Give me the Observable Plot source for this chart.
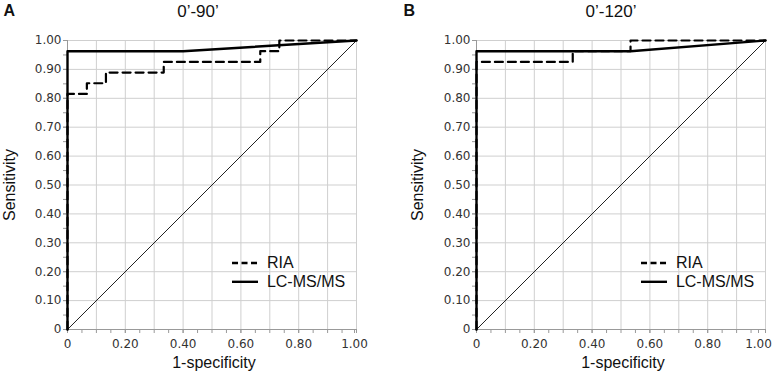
<!DOCTYPE html>
<html>
<head>
<meta charset="utf-8">
<script src="https://cdn.jsdelivr.net/npm/d3@7"></script>
<script src="https://cdn.jsdelivr.net/npm/@observablehq/plot@0.6"></script>
<style>
  html, body { margin: 0; padding: 0; background: #fff; }
  #wrap { display: flex; width: 777px; height: 380px; }
</style>
</head>
<body>
<div id="wrap"></div>
<script>
// ---- Data ----
const panelLetters = ["A", "B"];
const panelTitles = ["0\u2019-90\u2019", "0\u2019-120\u2019"];
const seriesNames = ["RIA", "LC-MS/MS"];

// Panel A (0'-90')
const riaA_fpr = [0, 0, 0.067, 0.067, 0.133, 0.133, 0.333, 0.333, 0.667, 0.667, 0.733, 0.733, 1];
const riaA_tpr = [0, 0.815, 0.815, 0.852, 0.852, 0.889, 0.889, 0.926, 0.926, 0.963, 0.963, 1, 1];
const lcA_fpr = [0, 0, 0.4, 1];
const lcA_tpr = [0, 0.963, 0.963, 1];

// Panel B (0'-120')
const riaB_fpr = [0, 0, 0.333, 0.333, 0.533, 0.533, 1];
const riaB_tpr = [0, 0.926, 0.926, 0.963, 0.963, 1, 1];
const lcB_fpr = [0, 0, 0.533, 1];
const lcB_tpr = [0, 0.963, 0.963, 1];

// Reference diagonal
const diag = [0, 1];

// Tick labels
const xTickValues = [0, 0.2, 0.4, 0.6, 0.8, 1];
const xTickLabels = ["0", "0.20", "0.40", "0.60", "0.80", "1.00"];
const yTickValues = [0, 0.1, 0.2, 0.3, 0.4, 0.5, 0.6, 0.7, 0.8, 0.9, 1];
const yTickLabels = ["0", "0.10", "0.20", "0.30", "0.40", "0.50", "0.60", "0.70", "0.80", "0.90", "1.00"];
const minorTicks = d3.range(0, 21).map(i => i / 20);
const gridTicks = d3.range(0, 11).map(i => i / 10);

const xLabel = "1-specificity";
const yLabel = "Sensitivity";

// ---- Layout ----
const sans = "Liberation Sans, Arial, sans-serif";
const tickFont = "DejaVu Sans, Verdana, sans-serif";
const legendPos = { x1: 0.571, x2: 0.661, xt: 0.69, y: [0.23, 0.165] };

function pts(xs, ys) { return xs.map((x, i) => ({ x, y: ys[i] })); }
function lookup(vals, labels) {
  return d => { const i = vals.findIndex(v => Math.abs(v - d) < 1e-9); return i < 0 ? "" : labels[i]; };
}

function panel(cfg) {
  const ria = pts(cfg.riaX, cfg.riaY);
  const lc = pts(cfg.lcX, cfg.lcY);
  const dg = pts(diag, diag);
  const legend = seriesNames.map((name, i) => ({ name, y: legendPos.y[i] }));
  const lastX = xTickValues[xTickValues.length - 1];
  const axisOpts = { tickSize: 4, stroke: "#999", fill: "#333", label: null, fontSize: 12, fontFamily: tickFont };
  return Plot.plot({
    width: cfg.width,
    height: 380,
    marginLeft: cfg.ml,
    marginRight: cfg.mr,
    marginTop: 40,
    marginBottom: 51,
    x: { domain: [0, 1], axis: null },
    y: { domain: [0, 1], axis: null },
    style: { fontFamily: tickFont, fontSize: "12px", color: "#333", background: "#fff", overflow: "visible" },
    marks: [
      Plot.gridX(gridTicks, { stroke: "#cfcfcf", strokeOpacity: 1 }),
      Plot.gridY(gridTicks, { stroke: "#cfcfcf", strokeOpacity: 1 }),
      Plot.axisX(minorTicks, { ...axisOpts, tickFormat: () => "" }),
      Plot.axisX(xTickValues.filter(v => v !== lastX), { ...axisOpts, tickPadding: 6, tickFormat: lookup(xTickValues, xTickLabels) }),
      Plot.axisX([lastX], { ...axisOpts, tickPadding: 6, dx: cfg.lastDx, tickFormat: lookup(xTickValues, xTickLabels) }),
      Plot.axisY(minorTicks, { ...axisOpts, tickFormat: () => "" }),
      Plot.axisY(yTickValues, { ...axisOpts, tickPadding: 2, tickFormat: lookup(yTickValues, yTickLabels) }),
      Plot.ruleY([0], { stroke: "#999" }),
      Plot.ruleX([0], { stroke: "#999" }),
      Plot.line(dg, { x: "x", y: "y", stroke: "#222", strokeWidth: 1 }),
      Plot.line(lc, { x: "x", y: "y", stroke: "#000", strokeWidth: 2.4 }),
      Plot.line(ria, { x: "x", y: "y", stroke: "#000", strokeWidth: 2.2, strokeDasharray: "8,5" }),
      // legend
      Plot.ruleY([legend[0]], { y: "y", x1: legendPos.x1, x2: legendPos.x2, stroke: "#000", strokeWidth: 2.4, strokeDasharray: "6,3.5" }),
      Plot.ruleY([legend[1]], { y: "y", x1: legendPos.x1, x2: legendPos.x2, stroke: "#000", strokeWidth: 2.4 }),
      Plot.text(legend, { x: legendPos.xt, y: "y", text: "name", textAnchor: "start", lineAnchor: "middle",
        fontFamily: sans, fontSize: 16, fill: "#111" }),
      // titles & labels
      Plot.text([cfg.letter], { frameAnchor: "top-left", dx: cfg.letterDx, dy: -30, textAnchor: "start", lineAnchor: "middle",
        fontFamily: sans, fontSize: 16, fontWeight: "bold", fill: "#111" }),
      Plot.text([cfg.title], { frameAnchor: "top", dx: cfg.titleDx, dy: -29, lineAnchor: "middle",
        fontFamily: sans, fontSize: 17, fill: "#111" }),
      Plot.text([yLabel], { frameAnchor: "left", dx: cfg.ylabDx, rotate: -90, lineAnchor: "middle", textAnchor: "middle",
        fontFamily: sans, fontSize: 16, fill: "#111" }),
      Plot.text([xLabel], { frameAnchor: "bottom", dx: 2, dy: 33, lineAnchor: "middle",
        fontFamily: sans, fontSize: 16, fill: "#111" })
    ]
  });
}

const wrap = document.getElementById("wrap");
wrap.append(panel({
  width: 388, ml: 67, mr: 32, letter: panelLetters[0], title: panelTitles[0],
  letterDx: -64, titleDx: -14, ylabDx: -58, lastDx: -2,
  riaX: riaA_fpr, riaY: riaA_tpr, lcX: lcA_fpr, lcY: lcA_tpr
}));
wrap.append(panel({
  width: 389, ml: 88, mr: 12, letter: panelLetters[1], title: panelTitles[1],
  letterDx: -73, titleDx: -10, ylabDx: -59, lastDx: -7,
  riaX: riaB_fpr, riaY: riaB_tpr, lcX: lcB_fpr, lcY: lcB_tpr
}));
</script>
</body>
</html>
